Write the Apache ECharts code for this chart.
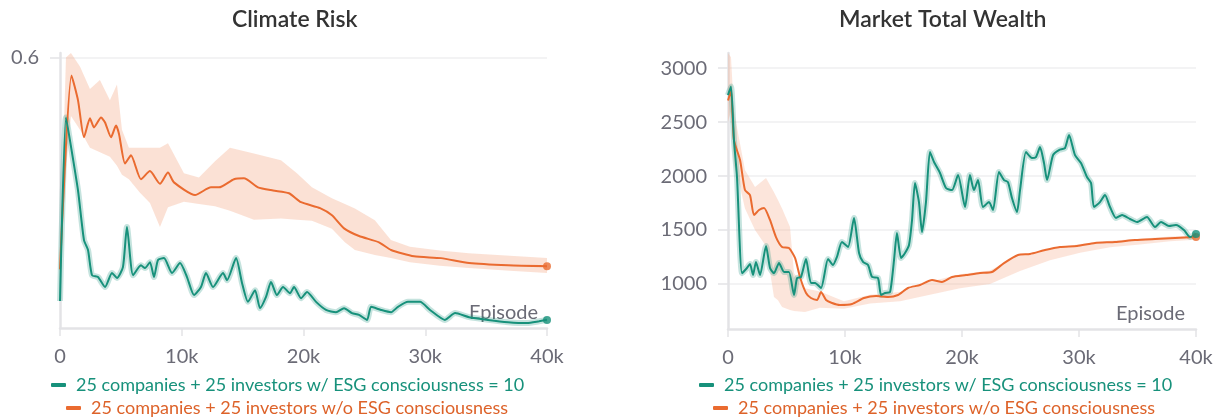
<!DOCTYPE html>
<html>
<head>
<meta charset="utf-8">
<script src="https://cdn.jsdelivr.net/npm/echarts@6/dist/echarts.min.js"></script>
<style>
  html, body { margin: 0; padding: 0; background: #fff; }
  #main { width: 1220px; height: 420px; }
</style>
</head>
<body>
<div id="main"></div>
<script>
// Climate Risk (left) / Market Total Wealth (right)

var GREEN = '#17917b';
var ORANGE = '#ea6b30';
var NAME_G = '25 companies + 25 investors w/ ESG consciousness = 10';
var NAME_O = '25 companies + 25 investors w/o ESG consciousness';
var FONT = 'Lato';

// --- Climate Risk ---
var riskEpG = [0, 490, 820, 1480, 1970, 2300, 2630, 3120, 3700, 4270, 4680, 5170, 5500, 6000, 6650, 6980, 7390, 7720, 8050, 8540, 9200, 9860, 10430, 11010, 11580, 11990, 12570, 13390, 13720, 14460, 14950, 15440, 16020, 16430, 16920, 17330, 17820, 18320, 18890, 19220, 19800, 20290, 21030, 21850, 22670, 23330, 23980, 24560, 25220, 25550, 26370, 27190, 27760, 28580, 29570, 30390, 31620, 32450, 33600, 35150, 36800, 38360, 39350, 40000];
var riskG = [0.06, 0.467, 0.416, 0.305, 0.195, 0.173, 0.117, 0.113, 0.091, 0.122, 0.111, 0.135, 0.224, 0.117, 0.139, 0.133, 0.146, 0.113, 0.151, 0.155, 0.122, 0.144, 0.113, 0.073, 0.091, 0.122, 0.091, 0.122, 0.106, 0.155, 0.1, 0.058, 0.084, 0.044, 0.069, 0.102, 0.073, 0.091, 0.077, 0.091, 0.066, 0.08, 0.058, 0.04, 0.035, 0.044, 0.033, 0.029, 0.018, 0.047, 0.04, 0.035, 0.047, 0.058, 0.058, 0.04, 0.018, 0.033, 0.024, 0.018, 0.013, 0.011, 0.015, 0.018];

var riskEpO = [0, 945, 1480, 1970, 2460, 2790, 3370, 3700, 4190, 4600, 4850, 5340, 5830, 6650, 7390, 8210, 8870, 9360, 11090, 12400, 13060, 14290, 15110, 16260, 17500, 18810, 19800, 21360, 22340, 23330, 24560, 26200, 27190, 29080, 31300, 33600, 36800, 40000];
var riskO = [0.13, 0.56, 0.505, 0.423, 0.465, 0.445, 0.467, 0.456, 0.423, 0.449, 0.43, 0.365, 0.383, 0.33, 0.348, 0.32, 0.345, 0.323, 0.295, 0.312, 0.312, 0.33, 0.332, 0.312, 0.305, 0.299, 0.279, 0.266, 0.25, 0.221, 0.204, 0.19, 0.173, 0.159, 0.155, 0.144, 0.139, 0.137];

var riskBandEp = [0, 490, 900, 1640, 2460, 3280, 4100, 4680, 5090, 5660, 6570, 7390, 8210, 8870, 10180, 11410, 12730, 13960, 15930, 18150, 19460, 20690, 22330, 23400, 24220, 25860, 27180, 28740, 31200, 33580, 36950, 40000];
var riskBandLo = [0.1, 0.35, 0.47, 0.44, 0.4, 0.39, 0.38, 0.36, 0.34, 0.33, 0.3, 0.277, 0.224, 0.268, 0.28, 0.275, 0.27, 0.26, 0.24, 0.243, 0.24, 0.238, 0.22, 0.19, 0.173, 0.162, 0.155, 0.146, 0.138, 0.133, 0.127, 0.122];
var riskBandHi = [0.15, 0.6, 0.61, 0.58, 0.53, 0.55, 0.505, 0.54, 0.44, 0.4, 0.4, 0.4, 0.4, 0.41, 0.343, 0.334, 0.37, 0.4, 0.387, 0.372, 0.343, 0.312, 0.288, 0.275, 0.265, 0.239, 0.195, 0.18, 0.172, 0.166, 0.16, 0.155];

// --- Market Total Wealth ---
var wealthEpG = [0, 256, 510, 770, 1200, 1620, 1880, 2140, 2390, 2740, 3250, 3590, 3930, 4360, 4790, 5210, 5640, 5900, 6240, 6670, 7090, 7440, 7950, 8550, 8970, 9310, 9740, 10260, 10770, 11200, 11540, 11970, 12310, 12820, 13080, 13420, 13850, 14190, 14440, 14790, 15130, 15470, 15730, 15980, 16320, 16580, 16920, 17260, 17610, 18120, 18630, 19150, 19660, 20260, 20680, 21020, 21370, 21790, 22310, 22650, 23160, 23590, 23930, 24270, 24700, 24960, 25470, 25980, 26320, 26670, 27010, 27270, 27780, 28290, 28800, 29150, 29660, 30170, 30680, 31030, 31280, 31790, 32220, 32650, 33160, 33680, 34360, 34960, 35810, 36500, 37010, 37690, 38290, 38970, 39490, 40000];
var wealthG = [2750, 2830, 2333, 1990, 1100, 1148, 1185, 1083, 1204, 1083, 1352, 1148, 1100, 1194, 1111, 1111, 898, 1055, 1065, 1231, 1009, 1009, 963, 1231, 1176, 1250, 1389, 1343, 1611, 1287, 1204, 1176, 1065, 1055, 898, 917, 926, 1222, 1472, 1241, 1287, 1361, 1593, 1935, 1759, 1481, 1759, 2222, 2130, 2028, 1889, 1870, 2009, 1713, 2009, 1870, 1963, 1713, 1759, 1685, 2037, 1963, 1944, 1796, 1667, 1870, 2222, 2167, 2176, 2268, 2120, 1963, 2194, 2241, 2259, 2380, 2194, 2120, 1991, 1935, 1713, 1759, 1824, 1713, 1611, 1639, 1602, 1574, 1620, 1528, 1574, 1537, 1546, 1500, 1435, 1463];

var wealthEpO = [0, 256, 510, 1030, 1450, 1880, 2220, 2650, 3080, 3590, 4100, 4620, 5210, 5730, 6150, 6670, 7090, 7610, 7950, 8380, 8890, 9570, 10600, 11620, 12650, 13680, 14530, 15380, 16410, 17440, 18290, 19150, 20340, 21540, 22560, 23590, 24790, 25810, 27090, 28380, 29830, 31370, 33080, 34790, 36500, 38210, 40000];
var wealthO = [2700, 2790, 2333, 2148, 1870, 1824, 1639, 1685, 1704, 1593, 1435, 1343, 1333, 1241, 1065, 917, 870, 852, 926, 852, 824, 806, 815, 870, 889, 880, 898, 963, 991, 1037, 1019, 1065, 1083, 1102, 1111, 1194, 1269, 1278, 1315, 1343, 1352, 1380, 1389, 1407, 1417, 1426, 1435];

var wealthBandEp = [0, 256, 510, 1030, 1450, 2310, 3250, 3930, 4270, 4620, 5300, 5640, 6580, 7860, 9910, 12140, 14700, 17260, 19830, 22390, 24960, 27520, 30090, 32650, 35210, 37780, 40000];
var wealthBandLo = [2500, 2600, 2100, 1900, 1700, 1500, 1350, 880, 850, 787, 760, 750, 741, 780, 770, 820, 840, 900, 960, 1000, 1120, 1220, 1290, 1340, 1365, 1395, 1410];
var wealthBandHi = [3140, 3100, 2600, 2300, 2056, 1898, 1981, 1850, 1778, 1700, 1528, 1102, 960, 930, 840, 900, 925, 1020, 1090, 1125, 1270, 1320, 1370, 1400, 1420, 1440, 1450];

function pairs(xs, ys) {
  return xs.map(function (x, i) { return [x, ys[i]]; });
}

function bandSeries(idx, xs, lo, hi, fill) {
  return {
    type: 'custom',
    xAxisIndex: idx,
    yAxisIndex: idx,
    silent: true,
    z: 1,
    data: xs.map(function (x, i) { return [x, lo[i], hi[i]]; }),
    encode: { x: 0, y: [1, 2] },
    renderItem: function (params, api) {
      if (params.dataIndex !== 0) return null;
      var pts = [];
      for (var i = 0; i < xs.length; i++) pts.push(api.coord([xs[i], hi[i]]));
      for (var j = xs.length - 1; j >= 0; j--) pts.push(api.coord([xs[j], lo[j]]));
      return {
        type: 'polygon',
        shape: { points: pts },
        style: { fill: fill },
        clipPath: {
          type: 'rect',
          shape: { x: params.coordSys.x, y: params.coordSys.y, width: params.coordSys.width, height: params.coordSys.height }
        }
      };
    }
  };
}

function lineSeries(idx, name, xs, ys, color) {
  return {
    name: name,
    type: 'line',
    xAxisIndex: idx,
    yAxisIndex: idx,
    data: pairs(xs, ys),
    showSymbol: false,
    symbol: 'none',
    smooth: 0.2,
    z: 4,
    lineStyle: { color: color, width: 2 },
    itemStyle: { color: color }
  };
}

function haloSeries(idx, xs, ys, color) {
  return {
    name: 'halo',
    type: 'line',
    xAxisIndex: idx,
    yAxisIndex: idx,
    data: pairs(xs, ys),
    showSymbol: false,
    symbol: 'none',
    smooth: 0.2,
    silent: true,
    z: 2,
    lineStyle: { color: color, width: 6, opacity: 0.25 }
  };
}

function endDot(idx, xs, ys, color) {
  var n = xs.length - 1;
  return {
    name: 'end',
    type: 'scatter',
    xAxisIndex: idx,
    yAxisIndex: idx,
    data: [[xs[n], ys[n]]],
    symbolSize: 8,
    silent: true,
    z: 5,
    itemStyle: { color: color }
  };
}

var axisGray = '#e3e3e6';
var labelGray = '#6b6b76';

function xAxisFor(idx, gap) {
  return {
    type: 'value',
    gridIndex: idx,
    min: 0,
    max: 40000,
    interval: 10000,
    name: 'Episode',
    nameLocation: 'end',
    nameGap: gap,
    nameTextStyle: { align: 'right', verticalAlign: 'bottom', fontSize: 20, color: labelGray, fontFamily: FONT, padding: [0, 0, 5, 0] },
    axisLine: { show: true, lineStyle: { color: axisGray, width: 2.5 } },
    axisTick: { show: true, length: 8, lineStyle: { color: axisGray, width: 1.5 } },
    splitLine: { show: false },
    axisLabel: {
      fontSize: 20, color: labelGray, fontFamily: FONT, margin: 19,
      formatter: function (v) { return v === 0 ? '0' : (v / 1000) + 'k'; }
    }
  };
}

var legendRows = [
  { name: NAME_G, color: GREEN, left: 51, top: 376 },
  { name: NAME_O, color: '#dd6229', left: 66, top: 399 },
  { name: NAME_G, color: GREEN, left: 699, top: 376 },
  { name: NAME_O, color: '#dd6229', left: 713, top: 399 }
];

var option = {
  animation: false,
  title: [
    { text: 'Climate Risk', left: 227, top: 3, textStyle: { fontSize: 23, fontWeight: 600, color: '#333', fontFamily: FONT } },
    { text: 'Market Total Wealth', left: 834, top: 3, textStyle: { fontSize: 23, fontWeight: 600, color: '#333', fontFamily: FONT } }
  ],
  grid: [
    { left: 60, right: 673, top: 53, bottom: 92 },
    { left: 728, right: 24, top: 53, bottom: 91 }
  ],
  legend: legendRows.map(function (r) {
    return {
      data: [r.name],
      left: r.left,
      top: r.top,
      icon: 'roundRect',
      itemWidth: 15,
      itemHeight: 4,
      selectedMode: false,
      padding: 0,
      textStyle: { color: r.color, fontSize: 18, fontFamily: FONT, padding: [0, 0, 0, 5] }
    };
  }),
  xAxis: [xAxisFor(0, -9), xAxisFor(1, -11)],
  yAxis: [
    {
      type: 'value', gridIndex: 0, min: 0, max: 0.61, interval: 0.6,
      axisLine: { show: true, lineStyle: { color: axisGray, width: 2.5 } },
      axisTick: { show: true, length: 10, lineStyle: { color: axisGray, width: 1.5 } },
      splitLine: { show: true, showMinLine: false, showMaxLine: false, lineStyle: { color: '#efeff1', width: 1.5 } },
      axisLabel: { showMinLabel: false, showMaxLabel: false, fontSize: 20, color: labelGray, fontFamily: FONT, margin: 21 }
    },
    {
      type: 'value', gridIndex: 1, min: 583, max: 3140, splitNumber: 5,
      axisLine: { show: true, lineStyle: { color: axisGray, width: 2.5 } },
      axisTick: { show: true, length: 10, lineStyle: { color: axisGray, width: 1.5 } },
      splitLine: { show: true, showMinLine: false, showMaxLine: false, lineStyle: { color: '#efeff1', width: 1.5 } },
      axisLabel: {
        showMinLabel: false, showMaxLabel: false, fontSize: 20, color: labelGray, fontFamily: FONT, margin: 21,
        formatter: function (v) { return String(v); }
      }
    }
  ],
  series: [
    bandSeries(0, riskBandEp, riskBandLo, riskBandHi, 'rgba(244,170,135,0.35)'),
    haloSeries(0, riskEpG, riskG, GREEN),
    lineSeries(0, NAME_O, riskEpO, riskO, ORANGE),
    lineSeries(0, NAME_G, riskEpG, riskG, GREEN),
    endDot(0, riskEpO, riskO, ORANGE),
    endDot(0, riskEpG, riskG, GREEN),

    bandSeries(1, wealthBandEp, wealthBandLo, wealthBandHi, 'rgba(244,170,135,0.3)'),
    haloSeries(1, wealthEpG, wealthG, GREEN),
    lineSeries(1, NAME_O, wealthEpO, wealthO, ORANGE),
    lineSeries(1, NAME_G, wealthEpG, wealthG, GREEN),
    endDot(1, wealthEpO, wealthO, ORANGE),
    endDot(1, wealthEpG, wealthG, GREEN)
  ]
};

var chart = echarts.init(document.getElementById('main'));
chart.setOption(option);
</script>
</body>
</html>
